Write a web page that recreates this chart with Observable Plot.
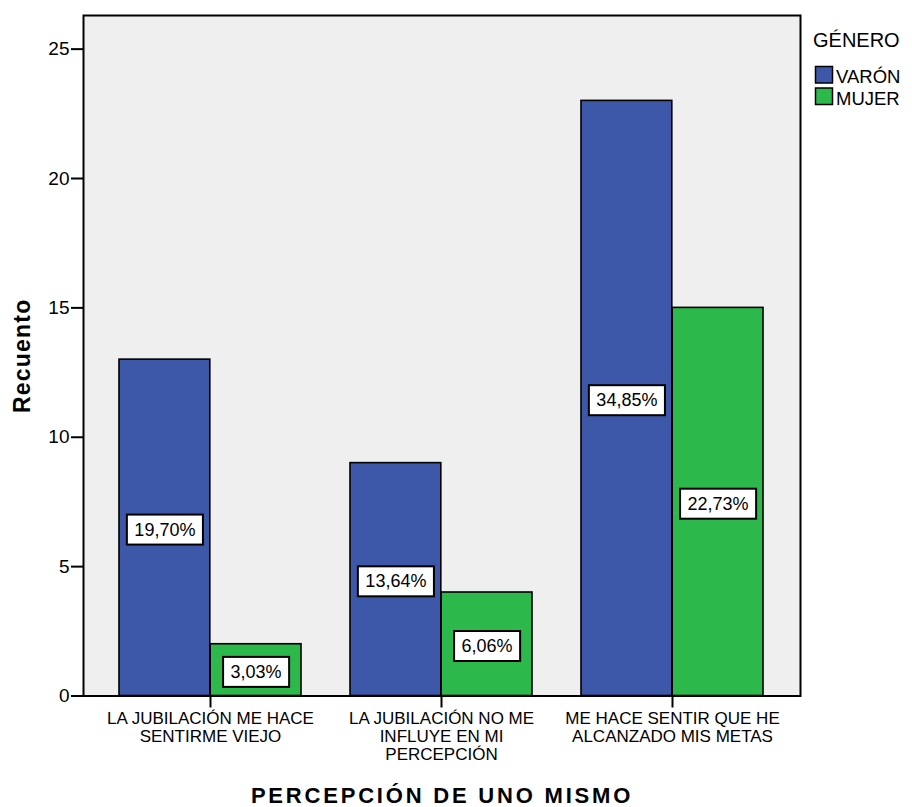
<!DOCTYPE html>
<html>
<head>
<meta charset="utf-8">
<script src="https://cdn.jsdelivr.net/npm/d3@7"></script>
<script src="https://cdn.jsdelivr.net/npm/@observablehq/plot@0.6"></script>
<style>
  html, body { margin: 0; padding: 0; background: #fff; }
  #chart { position: relative; width: 912px; height: 807px; }
  svg { font-family: "Liberation Sans", Arial, sans-serif; }
</style>
</head>
<body>
<div id="chart"></div>
<script>
// ---- data ----
const categories = [
  "LA JUBILACIÓN ME HACE\nSENTIRME VIEJO",
  "LA JUBILACIÓN NO ME\nINFLUYE EN MI\nPERCEPCIÓN",
  "ME HACE SENTIR QUE HE\nALCANZADO MIS METAS"
];
const genders = ["VARÓN", "MUJER"];
const varonCounts = [13, 9, 23];
const mujerCounts = [2, 4, 15];
const varonPct = ["19,70%", "13,64%", "34,85%"];
const mujerPct = ["3,03%", "6,06%", "22,73%"];
const genderColors = ["#3E58A9", "#2DB84B"];
const yTicks = [0, 5, 10, 15, 20, 25];
const xTitle = "PERCEPCIÓN DE UNO MISMO";
const yTitle = "Recuento";
const legendTitle = "GÉNERO";

const varon = categories.map((c, i) => ({cat: c, gender: genders[0], count: varonCounts[i], pct: varonPct[i]}));
const mujer = categories.map((c, i) => ({cat: c, gender: genders[1], count: mujerCounts[i], pct: mujerPct[i]}));

const half = 91.2;

const plot = Plot.plot({
  width: 912,
  height: 807,
  marginLeft: 83,
  marginRight: 112,
  marginTop: 15,
  marginBottom: 111.5,
  style: {fontFamily: "'Liberation Sans', Arial, sans-serif", color: "#000", background: "#fff"},
  x: {domain: categories, paddingInner: 0.211, paddingOuter: 0.1556, label: null},
  y: {domain: [0, 26.3], label: null},
  marks: [
    Plot.frame({fill: "#EFEFEF", stroke: null}),
    Plot.barY(varon, {x: "cat", y: "count", fill: genderColors[0], stroke: "#000", strokeWidth: 1.6, insetRight: half}),
    Plot.barY(mujer, {x: "cat", y: "count", fill: genderColors[1], stroke: "#000", strokeWidth: 1.6, insetLeft: half}),
    Plot.text(varon, {x: "cat", y: d => d.count / 2, text: "pct", dx: -half / 2, dy: 2, fontSize: 18, fill: "#000", ariaDescription: "pct"}),
    Plot.text(mujer, {x: "cat", y: d => d.count / 2, text: "pct", dx: half / 2, dy: 2, fontSize: 18, fill: "#000", ariaDescription: "pct"}),
    Plot.frame({stroke: "#000", strokeWidth: 2}),
    Plot.axisY({ticks: yTicks, tickSize: 12, tickPadding: 2, fontSize: 19, label: null, strokeWidth: 2}),
    Plot.axisX({tickSize: 12, tickPadding: 3, fontSize: 17, lineHeight: 1.06, label: null, strokeWidth: 2}),
    Plot.text([yTitle], {frameAnchor: "left", textAnchor: "middle", dx: -61, rotate: -90, fontSize: 23, fontWeight: "bold", ariaDescription: "ytitle"}),
    Plot.text([xTitle], {frameAnchor: "bottom", textAnchor: "middle", dy: 100, fontSize: 22, fontWeight: "bold", lineAnchor: "middle", ariaDescription: "xtitle"})
  ]
});

document.getElementById("chart").appendChild(plot);

// letter spacing of the axis titles (as in the reference)
d3.select(plot).selectAll('g[aria-description="xtitle"] text').style("letter-spacing", "2.8px");
d3.select(plot).selectAll('g[aria-description="ytitle"] text').style("letter-spacing", "1.2px");

// white boxes behind percentage labels
d3.select(plot).selectAll('g[aria-description="pct"] text').each(function () {
  const bb = this.getBBox();
  const padX = 7.5, padY = 5;
  const r = document.createElementNS("http://www.w3.org/2000/svg", "rect");
  r.setAttribute("x", bb.x - padX);
  r.setAttribute("y", bb.y - padY);
  r.setAttribute("width", bb.width + 2 * padX);
  r.setAttribute("height", bb.height + 2 * padY);
  r.setAttribute("fill", "#fff");
  r.setAttribute("stroke", "#000");
  r.setAttribute("stroke-width", 2);
  const t = this.getAttribute("transform");
  if (t) r.setAttribute("transform", t);
  this.parentNode.insertBefore(r, this);
});

// legend
const svg = d3.select(plot);
const lg = svg.append("g")
  .attr("font-family", "'Liberation Sans', Arial, sans-serif")
  .attr("text-anchor", "start");
lg.append("text").attr("x", 813).attr("y", 47).attr("font-size", 20).text(legendTitle);
genders.forEach((g, i) => {
  const y0 = 66.5 + i * 21.5;
  lg.append("rect").attr("x", 815.5).attr("y", y0).attr("width", 17).attr("height", 16.5)
    .attr("fill", genderColors[i]).attr("stroke", "#000").attr("stroke-width", 1.5);
  lg.append("text").attr("x", 836).attr("y", y0 + 16.5).attr("font-size", 18.5).text(g);
});
</script>
</body>
</html>
